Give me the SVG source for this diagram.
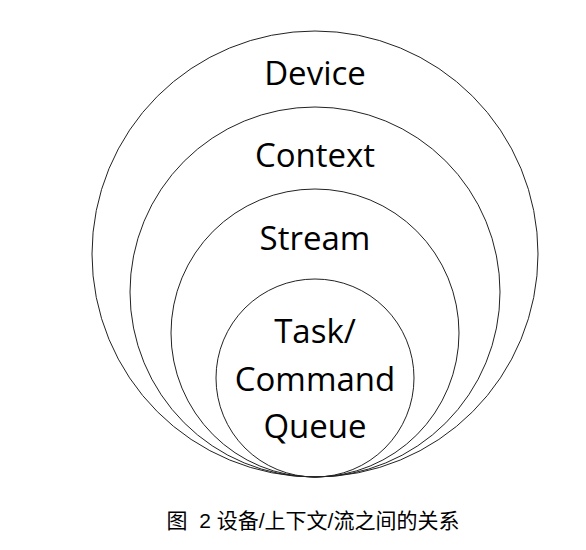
<svg xmlns="http://www.w3.org/2000/svg" width="586" height="550" viewBox="0 0 586 550">
<style>
.c{fill:none;stroke:#222;stroke-width:1}
.t{font-family:"Open Sans",Lato,sans-serif;font-size:33px;fill:#000;text-anchor:middle}
.cap{font-family:"Liberation Sans","Noto Sans CJK SC",sans-serif;font-size:21px;fill:#000;text-anchor:middle}
</style>
<rect width="586" height="550" fill="#fff"/>
<g id="device"><circle class="c" cx="315" cy="254" r="223"/><text class="t" x="315" y="85">Device</text></g>
<g id="context"><circle class="c" cx="315" cy="292" r="185"/><text class="t" x="315" y="167">Context</text></g>
<g id="stream"><circle class="c" cx="315" cy="333" r="144"/><text class="t" x="315" y="250">Stream</text></g>
<g id="task"><circle class="c" cx="315" cy="378" r="99"/><text class="t" x="315" y="343">Task/</text><text class="t" x="315" y="391">Command</text><text class="t" x="315" y="438">Queue</text></g>
<g id="connectors"></g>
<text class="cap" x="313" y="528" xml:space="preserve">图  2 设备/上下文/流之间的关系</text>
</svg>
